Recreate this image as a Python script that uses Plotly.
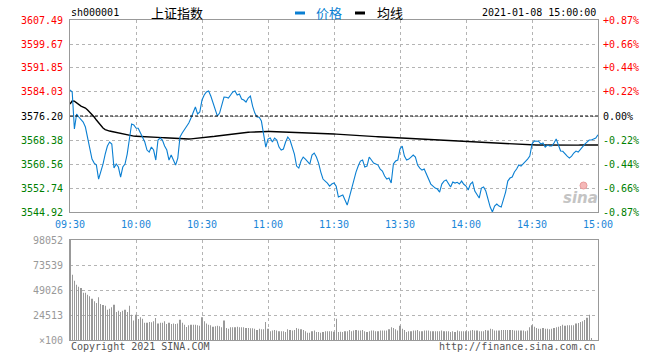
import plotly.graph_objects as go

# ---------------- data ----------------
symbol = "sh000001"
index_name = "上证指数"
timestamp = "2021-01-08 15:00:00"
prev_close = 3576.20

time_labels = ["09:30", "10:00", "10:30", "11:00", "11:30", "13:30", "14:00", "14:30", "15:00"]
price_levels = [3607.49, 3599.67, 3591.85, 3584.03, 3576.20, 3568.38, 3560.56, 3552.74, 3544.92]
pct_labels = ["+0.87%", "+0.66%", "+0.44%", "+0.22%", "0.00%", "-0.22%", "-0.44%", "-0.66%", "-0.87%"]
vol_levels = [98052, 73539, 49026, 24513, 0]
vol_labels = ["98052", "73539", "49026", "24513", "×100"]

price = [
    3584.67, 3584.02, 3571.96, 3576.85, 3575.87, 3574.89, 3574.24, 3572.61, 3568.70, 3566.09,
    3562.18, 3560.87, 3560.22, 3555.66, 3557.94, 3560.55, 3563.81, 3566.41, 3567.72, 3567.07,
    3559.24, 3560.55, 3559.57, 3556.31, 3559.57, 3560.55, 3563.81, 3569.67, 3573.59, 3573.26,
    3572.28, 3572.20, 3570.65, 3569.67, 3567.72, 3565.11, 3564.46, 3566.09, 3565.11, 3561.85,
    3568.37, 3569.02, 3568.37, 3566.41, 3565.11, 3561.85, 3563.48, 3561.85, 3560.22, 3562.50,
    3569.35, 3570.65, 3571.63, 3572.61, 3573.91, 3575.54, 3577.50, 3579.13, 3576.85, 3577.50,
    3581.41, 3583.04, 3584.02, 3584.34, 3582.71, 3580.43, 3577.82, 3576.19, 3577.17, 3579.78,
    3582.39, 3582.30, 3582.06, 3583.04, 3584.02, 3584.34, 3583.04, 3583.37, 3581.74, 3581.41,
    3580.76, 3582.06, 3582.71, 3579.45, 3577.17, 3575.87, 3575.80, 3574.56, 3570.00, 3566.09,
    3568.70, 3569.02, 3567.72, 3569.02, 3568.37, 3566.09, 3565.11, 3565.44, 3567.72, 3569.35,
    3568.37, 3566.09, 3563.81, 3559.89, 3559.24, 3561.52, 3562.83, 3562.18, 3561.52, 3560.55,
    3563.48, 3564.13, 3562.83, 3560.87, 3557.94, 3555.66, 3555.00, 3554.35, 3553.37, 3554.03,
    3554.35,
    3553.30, 3549.79, 3550.11, 3550.44, 3548.81, 3547.18, 3549.79, 3552.40, 3555.66,
    3557.94, 3559.89, 3561.52, 3561.85, 3559.57, 3559.89, 3562.83, 3561.85, 3560.87, 3560.55,
    3560.22, 3558.92, 3558.26, 3556.63, 3555.66, 3555.98, 3554.35, 3560.55, 3561.52, 3561.85,
    3565.44, 3566.41, 3563.15, 3561.85, 3562.18, 3562.83, 3563.48, 3562.83, 3560.22, 3559.24,
    3558.59, 3558.92, 3557.29, 3555.66, 3554.03, 3553.37, 3552.72, 3552.40, 3551.42, 3554.03,
    3555.00, 3555.33, 3554.03, 3553.05, 3554.68, 3554.35, 3554.60, 3554.03, 3555.00, 3553.95,
    3553.37, 3552.07, 3554.03, 3554.68, 3551.74, 3550.77, 3549.46, 3552.72, 3553.05, 3551.74,
    3548.81, 3546.53, 3544.92, 3546.85, 3547.51, 3546.85, 3546.53, 3549.14, 3551.42, 3555.00,
    3555.98, 3556.31, 3557.94, 3558.92, 3560.22, 3559.89, 3560.55, 3561.52, 3562.18, 3563.15,
    3567.07, 3568.04, 3568.10, 3567.98, 3567.07, 3567.39, 3566.09, 3566.74, 3566.41, 3566.45,
    3567.39, 3568.70, 3566.74, 3564.78, 3564.70, 3563.81, 3563.15, 3562.50, 3563.15, 3564.13,
    3564.78, 3564.46, 3565.44, 3566.41, 3567.07, 3567.72, 3568.37, 3568.40, 3568.70, 3569.02,
    3570.11,
]

avg_price = [
    3580.11, 3581.08, 3581.05, 3580.43, 3579.78, 3579.45, 3579.13, 3578.80, 3578.15, 3577.50,
    3576.85, 3575.87, 3574.89, 3573.91, 3572.93, 3572.28, 3571.79, 3571.47, 3571.30, 3571.14,
    3570.98, 3570.82, 3570.65, 3570.49, 3570.33, 3570.16, 3570.00, 3569.84,
    3569.67, 3569.65, 3569.62, 3569.60, 3569.55, 3569.50, 3569.45, 3569.40,
    3569.35, 3569.33, 3569.30, 3569.28, 3569.25, 3569.20, 3569.15, 3569.10, 3569.05, 3569.00,
    3568.95, 3568.90, 3568.85, 3568.80, 3568.75, 3568.72, 3568.70, 3568.70, 3568.72, 3568.75,
    3568.80, 3568.85, 3568.90, 3568.95, 3569.00, 3569.10, 3569.20, 3569.30, 3569.40, 3569.50,
    3569.60, 3569.70, 3569.80, 3569.90, 3570.00, 3570.10, 3570.20, 3570.30, 3570.40, 3570.50,
    3570.60, 3570.70, 3570.75, 3570.80, 3570.85, 3570.90, 3570.95, 3571.00, 3571.05, 3571.10, 3571.12,
    3571.14, 3571.15, 3571.15, 3571.15, 3571.14, 3571.12, 3571.10, 3571.08, 3571.05,
    3571.00, 3570.98, 3570.96, 3570.94, 3570.92, 3570.90, 3570.88, 3570.86, 3570.84, 3570.82, 3570.80, 3570.78,
    3570.75, 3570.72, 3570.70, 3570.67, 3570.65, 3570.62, 3570.58, 3570.54,
    3570.50, 3570.46, 3570.42, 3570.38, 3570.34, 3570.30, 3570.24, 3570.18, 3570.12, 3570.06,
    3570.00, 3569.96, 3569.92, 3569.88, 3569.84, 3569.80, 3569.76, 3569.72, 3569.68, 3569.64,
    3569.60, 3569.56, 3569.52, 3569.48, 3569.44, 3569.40, 3569.36, 3569.32, 3569.28, 3569.24,
    3569.20, 3569.15, 3569.10, 3569.05, 3569.00, 3568.95, 3568.90, 3568.85, 3568.80, 3568.75,
    3568.70, 3568.67, 3568.63, 3568.60, 3568.56, 3568.53, 3568.50, 3568.46, 3568.43, 3568.40,
    3568.37, 3568.34, 3568.30, 3568.27, 3568.24, 3568.20, 3568.17, 3568.14, 3568.10, 3568.07,
    3568.04, 3568.01, 3567.98, 3567.95, 3567.92, 3567.88, 3567.85, 3567.82, 3567.78, 3567.75,
    3567.70, 3567.66, 3567.62, 3567.58, 3567.54, 3567.50, 3567.45, 3567.40, 3567.35, 3567.30,
    3567.25, 3567.20, 3567.15, 3567.10, 3567.05, 3567.00, 3566.95, 3566.90, 3566.85, 3566.80,
    3566.78, 3566.77, 3566.76, 3566.75, 3566.74, 3566.74, 3566.73, 3566.73, 3566.72, 3566.72,
    3566.72, 3566.71, 3566.71, 3566.71, 3566.71, 3566.70, 3566.70, 3566.70, 3566.70, 3566.70,
    3566.70, 3566.70, 3566.71, 3566.71, 3566.72, 3566.72, 3566.73, 3566.73, 3566.74, 3566.74,
    3566.75, 3566.75, 3566.76, 3566.76, 3566.77,
]

volume = [
    98052, 64000, 58200, 54200, 52300, 51000, 46400, 46400, 44400, 42800,
    40500, 37900, 36300, 41800, 35300, 34300, 33700, 29700, 30700, 32000,
    34600, 27400, 28800, 27400, 28800, 29700, 27400, 33700, 24800, 19000,
    24800, 20600, 22200, 20900, 17000, 17000, 17600, 17300, 18300, 21600,
    16300, 17000, 17000, 18300, 15700, 17000, 15700, 16300, 15700, 16300,
    19900, 17000, 15000, 12700, 14400, 15000, 15000, 15000, 14400, 14000,
    22200, 18300, 16300, 15000, 14400, 13100, 13400, 14000, 13400, 12400,
    19000, 11800, 11100, 12400, 12400, 12400, 13000, 12400, 12400, 12400,
    11800, 11800, 11400, 11400, 11100, 9800, 11100, 10500, 10500, 17600,
    11100, 8500, 9200, 9800, 9200, 8500, 8500, 8500, 7800, 10500,
    9800, 9200, 9800, 11800, 11100, 10500, 9800, 8500, 7200, 7200,
    8500, 9200, 7800, 7800, 7200, 7800, 8500, 8500, 8500, 8500,
    8200,
    20900, 7800, 8200, 7800, 8500, 8500, 9800, 8500, 9200,
    9800, 9200, 9200, 9800, 8500, 7800, 8500, 9200, 9200, 8500,
    8500, 9200, 9200, 9200, 9200, 10500, 12400, 11800, 10500, 9200,
    14000, 11100, 9800, 7800, 8500, 8500, 9200, 9200, 9800, 8500,
    8500, 9200, 9200, 9200, 8500, 8500, 8500, 8500, 8500, 9200,
    8500, 8500, 8500, 7800, 8500, 7800, 9200, 8500, 8500, 8500,
    8500, 8500, 9200, 9800, 9200, 9200, 8500, 8500, 8500, 9800,
    9200, 11100, 10500, 9200, 9200, 9200, 9800, 9800, 9800, 9800,
    9800, 9800, 9200, 9200, 9200, 9200, 9200, 8500,
    9200, 12400, 14400, 13100, 11800, 11100, 11100, 11800, 11100, 11100,
    10500, 11100, 11800, 12400, 13100, 13700, 15000, 14000, 14400, 14400,
    14400, 14400, 16300, 16700, 17600, 18300, 19600, 21900, 24800, 1900,
    0, 0, 0,
]

# ---------------- styling ----------------
MONO = "DejaVu Sans Mono"
CJK = "Noto Sans CJK SC"
BLUE = "#0a7fd2"
RED = "#ff0000"
GREEN = "#008000"
GRID = "#b4b4b4"
FRAME = "#999999"

W, H = 660, 360
L, R, T, B = 70, 62, 20, 20
PW, PH = W - L - R, H - T - B


def px_x(sx):               # screen pixel -> paper x
    return (sx - L) / PW


def px_y(sy):               # screen pixel -> paper y
    return (H - B - sy) / PH


n_minutes = len(price) - 1
tick_idx = list(range(0, n_minutes + 1, n_minutes // (len(time_labels) - 1)))

fig = go.Figure()
fig.add_trace(go.Scatter(x=list(range(len(avg_price))), y=avg_price, mode="lines",
                         line=dict(color="#000000", width=1.4), xaxis="x", yaxis="y",
                         hoverinfo="skip"))
fig.add_trace(go.Scatter(x=list(range(len(price))), y=price, mode="lines",
                         line=dict(color=BLUE, width=1.1), xaxis="x", yaxis="y"))
# very thin bars: plotly widens sub-pixel bars to one crisp pixel
fig.add_trace(go.Bar(x=list(range(len(volume))), y=volume, marker=dict(color="#999999", line=dict(width=0)),
                     width=0.08, xaxis="x2", yaxis="y2"))

axis_common = dict(showline=True, mirror=True, linecolor=FRAME, linewidth=1, zeroline=False,
                   showgrid=True, gridcolor=GRID, griddash="dot", gridwidth=1, ticks="")

fig.update_layout(
    width=W, height=H, margin=dict(l=L, r=R, t=T, b=B),
    paper_bgcolor="white", plot_bgcolor="white", showlegend=False,
    xaxis=dict(domain=[0, 1], anchor="y", range=[0, n_minutes], tickvals=tick_idx, ticktext=time_labels,
               tickfont=dict(family=MONO, size=10, color="#1a86d8"), ticklabelstandoff=3, **axis_common),
    yaxis=dict(domain=[px_y(212), 1], anchor="x", range=[price_levels[-1], price_levels[0]],
               tickvals=price_levels, showticklabels=False, **axis_common),
    xaxis2=dict(domain=[0, 1], anchor="y2", range=[0, n_minutes], tickvals=tick_idx,
                showticklabels=False, matches="x", **axis_common),
    yaxis2=dict(domain=[0, px_y(240)], anchor="x2", range=[0, vol_levels[0]],
                tickvals=vol_levels[1:-1], showticklabels=False, **axis_common),
)

# previous close dashed line
fig.add_shape(type="line", xref="x", yref="y", x0=0, x1=n_minutes, y0=prev_close, y1=prev_close,
              line=dict(color="#000000", width=1, dash="3px,2px"), layer="above")

annotations = []
for lvl, pct in zip(price_levels, pct_labels):
    if lvl > prev_close + 0.001:
        col = RED
    elif lvl < prev_close - 0.001:
        col = GREEN
    else:
        col = "#000000"
    annotations.append(dict(xref="paper", yref="y", x=0, y=lvl, text=f"{lvl:.2f}", showarrow=False,
                            xanchor="right", yanchor="middle", xshift=-5,
                            font=dict(family=MONO, size=10, color=col)))
    annotations.append(dict(xref="paper", yref="y", x=1, y=lvl, text=pct, showarrow=False,
                            xanchor="left", yanchor="middle", xshift=3,
                            font=dict(family=MONO, size=10, color=col)))
for lvl, lab in zip(vol_levels, vol_labels):
    annotations.append(dict(xref="paper", yref="y2", x=0, y=lvl, text=lab, showarrow=False,
                            xanchor="right", yanchor="middle", xshift=-5,
                            font=dict(family=MONO, size=10, color="#999999")))

# header / footer / watermark
annotations += [
    dict(xref="paper", yref="paper", x=px_x(69), y=px_y(13), text=symbol, showarrow=False,
         xanchor="left", yanchor="middle", font=dict(family=MONO, size=10, color="#000000")),
    dict(xref="paper", yref="paper", x=px_x(177), y=px_y(12.5), text=index_name, showarrow=False,
         xanchor="center", yanchor="middle", font=dict(family=CJK, size=13, color="#000000")),
    dict(xref="paper", yref="paper", x=px_x(314), y=px_y(12.5), text="价格", showarrow=False,
         xanchor="left", yanchor="middle", font=dict(family=CJK, size=13, color=BLUE)),
    dict(xref="paper", yref="paper", x=px_x(375), y=px_y(12.5), text="均线", showarrow=False,
         xanchor="left", yanchor="middle", font=dict(family=CJK, size=13, color="#000000")),
    dict(xref="paper", yref="paper", x=1, y=px_y(13), text=timestamp, showarrow=False,
         xanchor="right", yanchor="middle", font=dict(family=MONO, size=10, color="#000000")),
    dict(xref="paper", yref="paper", x=px_x(69), y=px_y(346), text="Copyright 2021 SINA.COM", showarrow=False,
         xanchor="left", yanchor="middle", font=dict(family=MONO, size=10, color="#555555")),
    dict(xref="paper", yref="paper", x=1, y=px_y(346), text="http://finance.sina.com.cn", showarrow=False,
         xanchor="right", yanchor="middle", font=dict(family=MONO, size=10, color="#555555")),
    dict(xref="paper", yref="paper", x=px_x(580), y=px_y(198), text="<b><i>sina</i></b>", showarrow=False,
         xanchor="center", yanchor="middle", font=dict(family="DejaVu Sans", size=15, color="#c4c4c4")),
]
fig.update_layout(annotations=annotations)

# legend swatches and logo mark
fig.add_shape(type="rect", xref="paper", yref="paper", x0=px_x(295), x1=px_x(305), y0=px_y(14.5), y1=px_y(11.5),
              fillcolor=BLUE, line=dict(width=0))
fig.add_shape(type="rect", xref="paper", yref="paper", x0=px_x(355), x1=px_x(365), y0=px_y(14.5), y1=px_y(11.5),
              fillcolor="#000000", line=dict(width=0))
fig.add_shape(type="circle", xref="paper", yref="paper", x0=px_x(580), x1=px_x(587), y0=px_y(189), y1=px_y(182),
              fillcolor="#f4b8b8", line=dict(color="#e89a9a", width=1))

# the page's default body margin would shift the figure by 8px; remove it
fig.write_html("out.html", config={"displayModeBar": False},
               post_script="document.body.style.margin='0px';")
